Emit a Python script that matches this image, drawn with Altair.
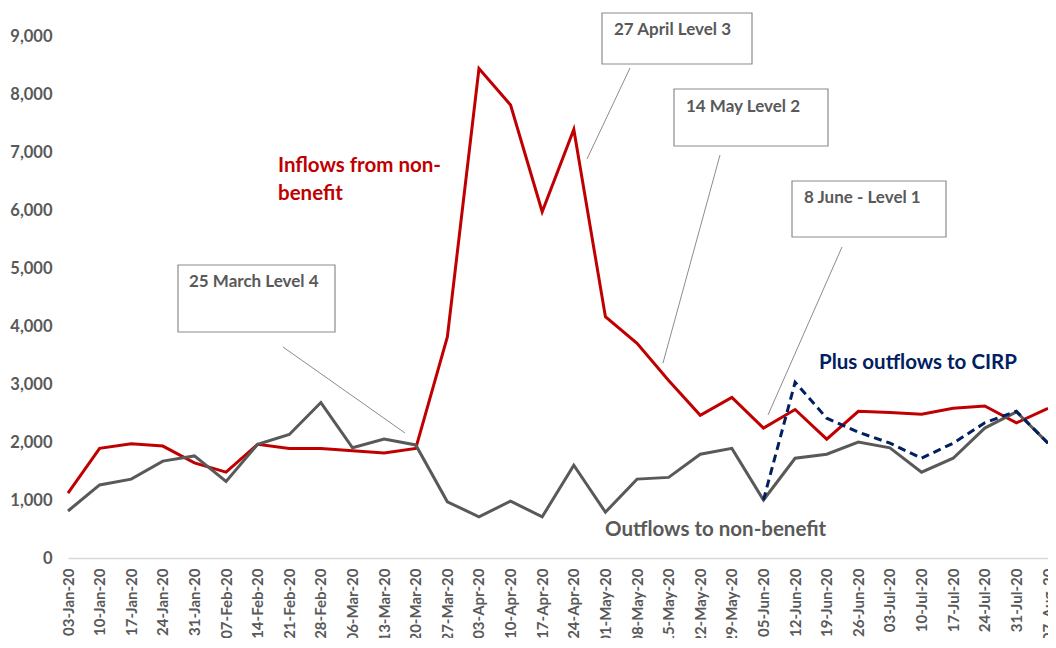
import altair as alt
import pandas as pd

dates = ["03-Jan-20","10-Jan-20","17-Jan-20","24-Jan-20","31-Jan-20","07-Feb-20","14-Feb-20",
         "21-Feb-20","28-Feb-20","06-Mar-20","13-Mar-20","20-Mar-20","27-Mar-20","03-Apr-20",
         "10-Apr-20","17-Apr-20","24-Apr-20","01-May-20","08-May-20","15-May-20","22-May-20",
         "29-May-20","05-Jun-20","12-Jun-20","19-Jun-20","26-Jun-20","03-Jul-20","10-Jul-20",
         "17-Jul-20","24-Jul-20","31-Jul-20","07-Aug-20"]

inflows = [1120,1890,1970,1930,1640,1480,1960,1890,1890,1850,1810,1890,3810,8440,7810,5970,
           7390,4160,3700,3060,2460,2770,2240,2560,2050,2530,2510,2480,2580,2620,2330,2580]

outflows = [810,1260,1360,1670,1760,1320,1960,2130,2680,1900,2050,1950,970,710,980,710,
            1600,790,1360,1390,1790,1890,1000,1720,1790,2000,1900,1480,1720,2240,2520,1980]

cirp_dates = dates[22:]
cirp = [1000,3030,2410,2170,1980,1720,1980,2330,2530,1980]

y_ticks = [0,1000,2000,3000,4000,5000,6000,7000,8000,9000]

series_labels = ["Inflows from non-\nbenefit", "Plus outflows to CIRP", "Outflows to non-benefit"]
box_labels = ["25 March Level 4", "27 April Level 3", "14 May Level 2", "8 June - Level 1"]

FONT = "Lato"
RED = "#C00000"
GREY = "#595959"
NAVY = "#002060"
BOXLINE = "#8C8C8C"

df_in = pd.DataFrame({"date": dates, "value": inflows})
df_out = pd.DataFrame({"date": dates, "value": outflows})
df_cirp = pd.DataFrame({"date": cirp_dates, "value": cirp})

x_enc = alt.X("date:O", sort=dates, scale=alt.Scale(type="point", padding=0),
              axis=alt.Axis(title=None, labelAngle=-90, labelFont=FONT, labelFontSize=15,
                            labelFontWeight="bold", labelColor=GREY, ticks=False, grid=False,
                            labelPadding=10, domainColor="#D9D9D9", domainWidth=1.5,
                            labelOverlap=False))
y_enc = alt.Y("value:Q", scale=alt.Scale(domain=[0, 9000], nice=False),
              axis=alt.Axis(title=None, values=y_ticks, format=",.0f", grid=False, domain=False,
                            ticks=False, labelFont=FONT, labelFontSize=16.5,
                            labelFontWeight="bold", labelColor=GREY, labelPadding=16))

red = alt.Chart(df_in).mark_line(color=RED, strokeWidth=3).encode(x=x_enc, y=y_enc)
grey = alt.Chart(df_out).mark_line(color=GREY, strokeWidth=3).encode(x=x_enc, y=y_enc)
navy = alt.Chart(df_cirp).mark_line(color=NAVY, strokeWidth=3, strokeDash=[8, 5]).encode(x=x_enc, y=y_enc)

# page coordinates -> plot coordinates (plot origin at page 68, 36)
OX, OY = 68, 36

def box(label, x0, y0, x1, y1, tx, ty, lx0, ly0, lx1, ly1):
    d = pd.DataFrame({"t": [label]})
    base = alt.Chart(d)
    leader = base.mark_rule(color=BOXLINE, strokeWidth=1).encode(
        x=alt.value(lx0 - OX), y=alt.value(ly0 - OY),
        x2=alt.value(lx1 - OX), y2=alt.value(ly1 - OY))
    rect = base.mark_rect(fill="white", stroke=BOXLINE, strokeWidth=1.2).encode(
        x=alt.value(x0 - OX), x2=alt.value(x1 - OX),
        y=alt.value(y0 - OY), y2=alt.value(y1 - OY))
    txt = base.mark_text(align="left", baseline="middle", font=FONT, fontSize=17,
                         fontWeight="bold", color=GREY).encode(
        x=alt.value(tx - OX), y=alt.value(ty - OY), text="t:N")
    return [leader, rect, txt]

ann = []
ann += box(box_labels[0], 178, 265, 335, 332, 189, 282, 283, 347, 405, 433)
ann += box(box_labels[1], 602, 13, 752, 64, 614, 30, 630, 68, 587, 159)
ann += box(box_labels[2], 674, 89, 828, 146, 686, 107, 720, 155, 663, 363)
ann += box(box_labels[3], 792, 181, 946, 237, 804, 198, 842, 247, 768, 415)

def label(text, color, x, y):
    return alt.Chart(pd.DataFrame({"t": [text]})).mark_text(
        align="left", baseline="middle", font=FONT, fontSize=20.5, fontWeight="bold",
        color=color, lineBreak="\n", lineHeight=28).encode(
        x=alt.value(x - OX), y=alt.value(y - OY), text="t:N")

lab_in = label(series_labels[0], RED, 278, 166)
lab_cirp = label(series_labels[1], NAVY, 819, 363)
lab_out = label(series_labels[2], GREY, 605, 530)

chart = alt.layer(red, grey, navy, *ann, lab_in, lab_cirp, lab_out).properties(
    width=980, height=522,
    background="white",
    autosize=alt.AutoSizeParams(type="none"),
    padding={"left": 60, "top": 28, "right": 0, "bottom": 80},
).configure_view(strokeWidth=0, stroke="transparent")

chart.save("out.html", embed_options={"renderer": "svg", "actions": False})
